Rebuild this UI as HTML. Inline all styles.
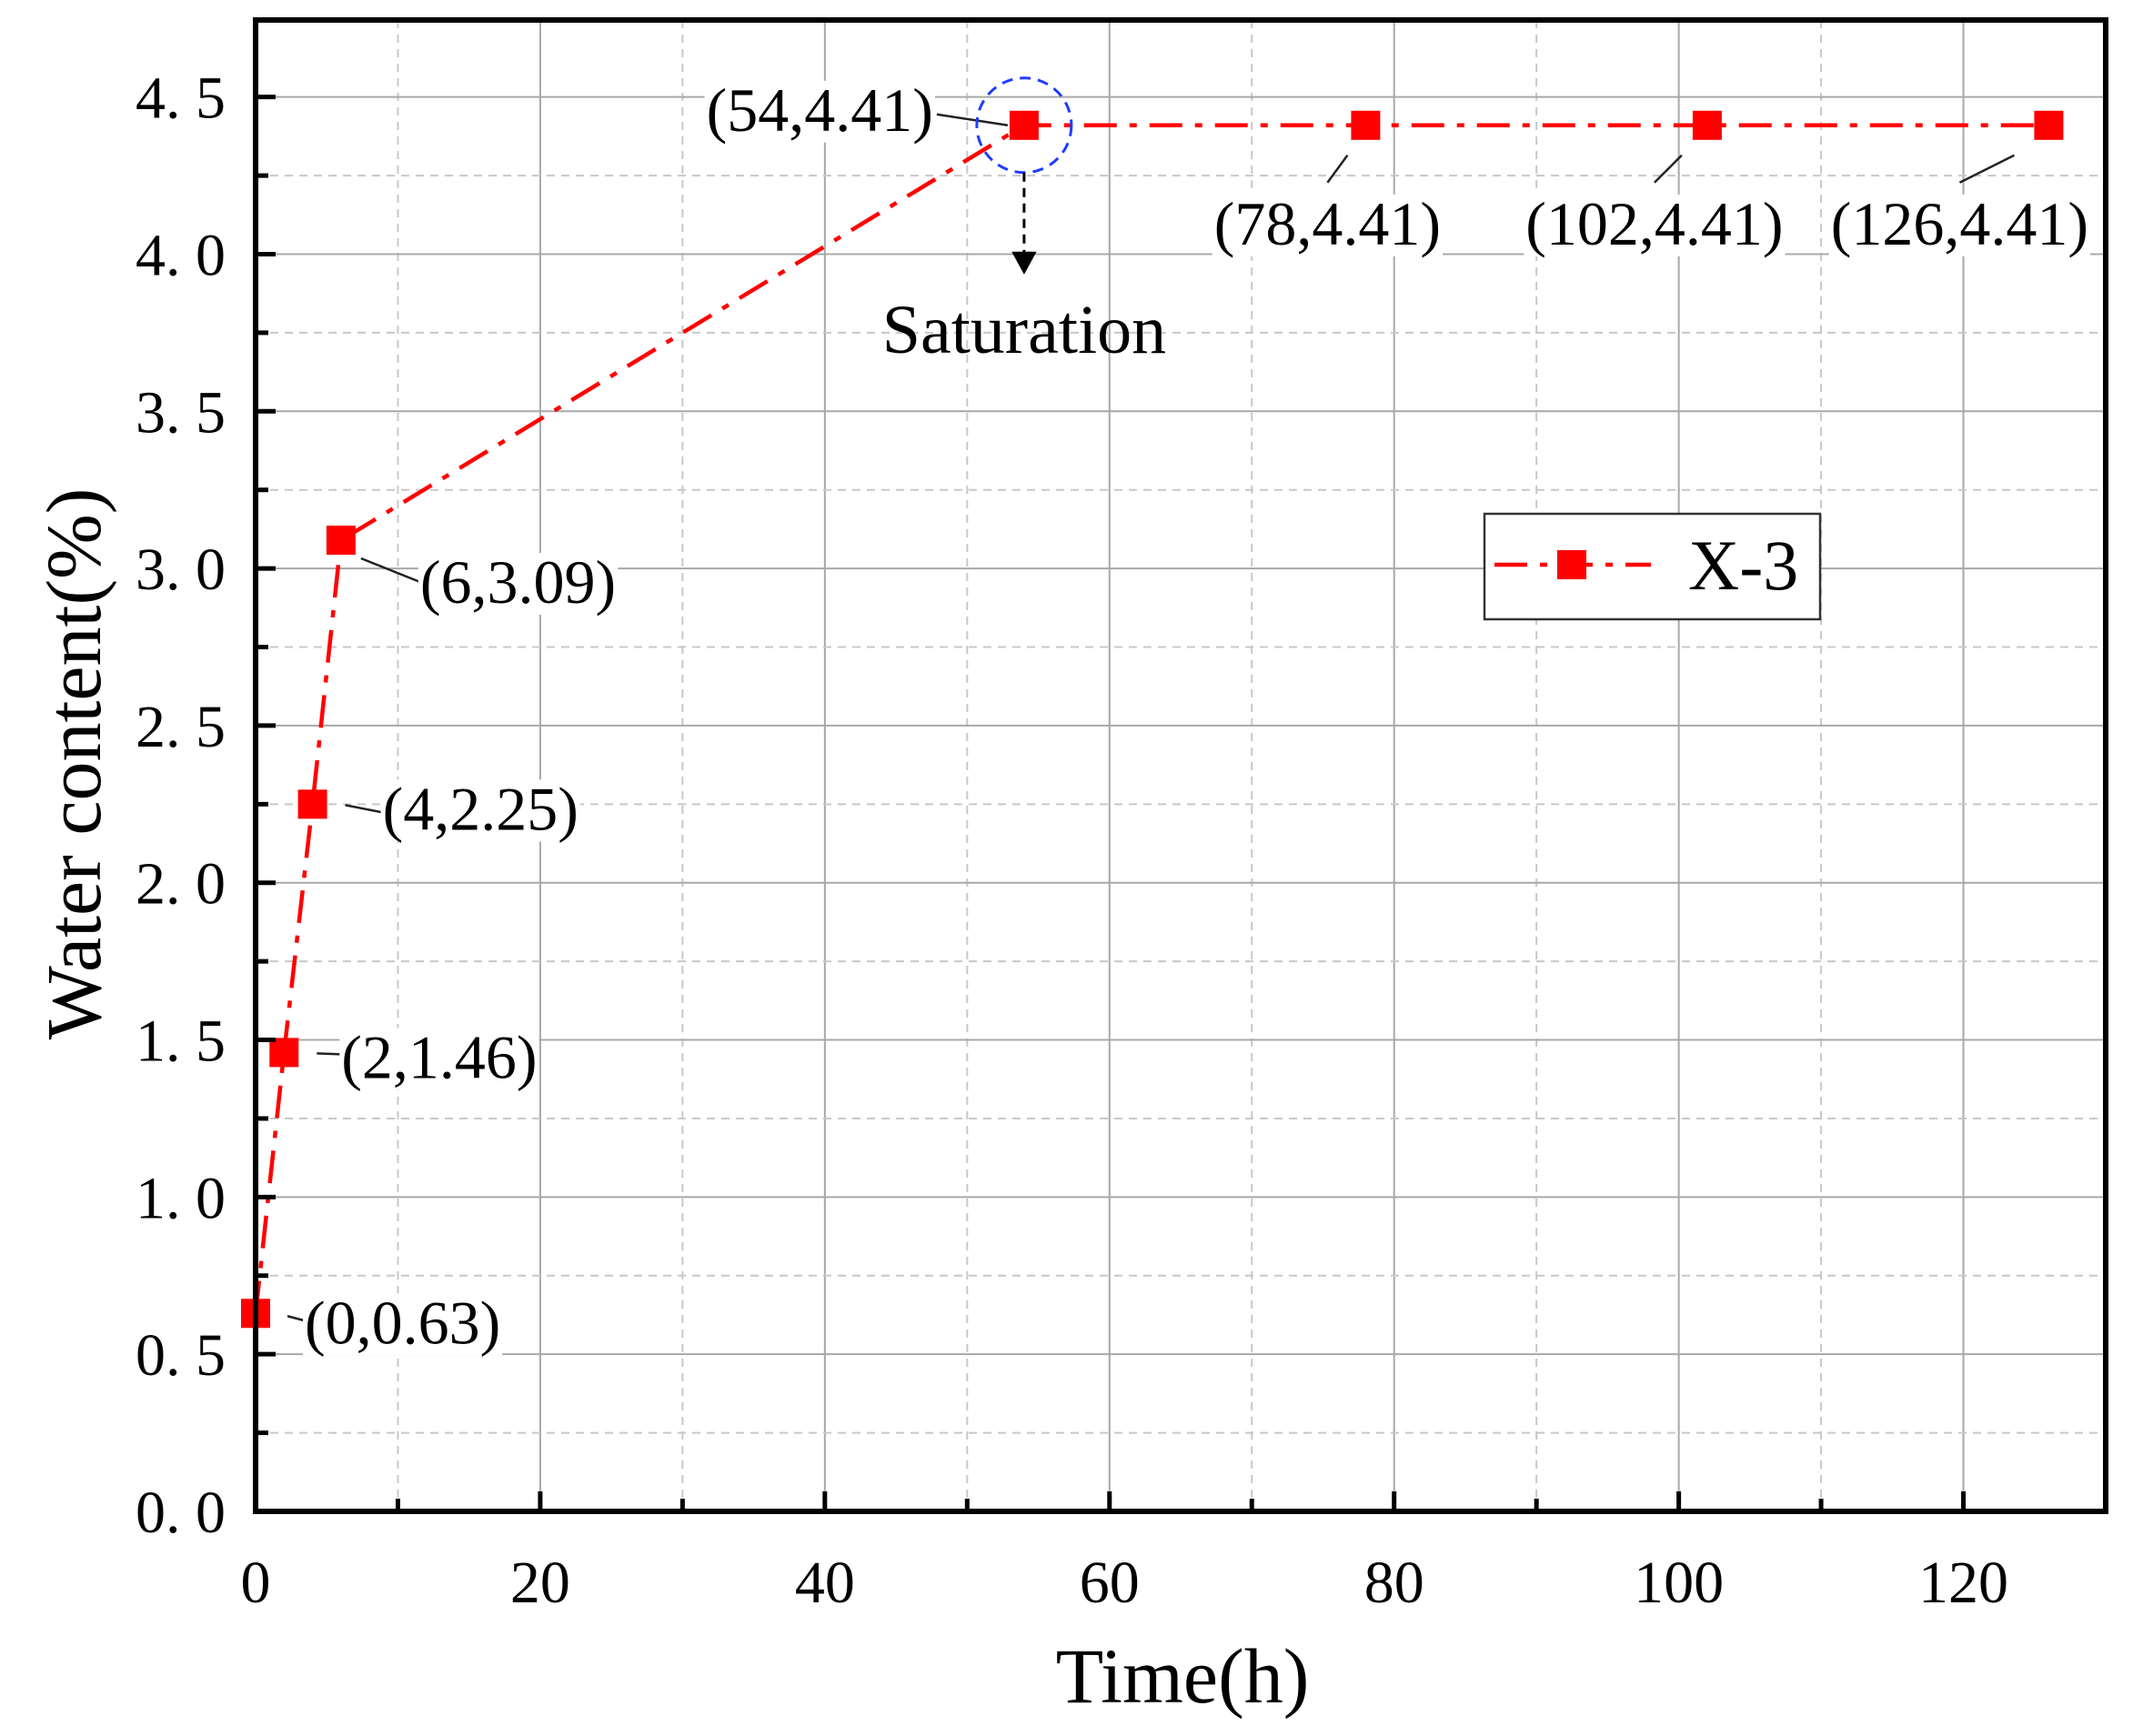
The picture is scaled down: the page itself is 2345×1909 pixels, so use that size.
<!DOCTYPE html>
<html><head><meta charset="utf-8"><style>
html,body{margin:0;padding:0;background:#fff;}
svg{display:block;font-family:"Liberation Serif","Noto Serif CJK SC",serif;}
</style></head><body>
<svg id="chart" width="2345" height="1909" viewBox="0 0 2345 1909" xmlns="http://www.w3.org/2000/svg">
<g id="grid"></g>
<g id="series"></g>
<g id="annot"></g>
<g id="axes"></g>
</svg>
<script>
const xValues = [0, 2, 4, 6, 54, 78, 102, 126];
const yValues = [0.63, 1.46, 2.25, 3.09, 4.41, 4.41, 4.41, 4.41];
const pointLabels = ["(0,0.63)","(2,1.46)","(4,2.25)","(6,3.09)","(54,4.41)","(78,4.41)","(102,4.41)","(126,4.41)"];
const xTicks = [0,20,40,60,80,100,120];
const yTicks = [0,0.5,1,1.5,2,2.5,3,3.5,4,4.5];
const yTickLabels = ["0. 0","0. 5","1. 0","1. 5","2. 0","2. 5","3. 0","3. 5","4. 0","4. 5"];

const L=281, R=2315, T=22, B=1662;
const X0=0, X1=130, Y0=0, Y1=4.745;
const sx = v => L + (v-X0)/(X1-X0)*(R-L);
const sy = v => B - (v-Y0)/(Y1-Y0)*(B-T);
const NS="http://www.w3.org/2000/svg";
function mk(parent, tag, attrs, text){
  const e=document.createElementNS(NS,tag);
  for(const k in attrs) e.setAttribute(k, attrs[k]);
  if(text!==undefined) e.textContent=text;
  document.getElementById(parent).appendChild(e);
  return e;
}
for(let v=10; v<130; v+=20){
  const e=mk('grid','line',{x1:sx(v),x2:sx(v),y1:T,y2:B,stroke:'#c8c8c8','stroke-width':2,'stroke-dasharray':'9,7'});
  
  
}
for(const v of xTicks){ if(v===0) continue;
  const e=mk('grid','line',{x1:sx(v),x2:sx(v),y1:T,y2:B,stroke:'#a8a8a8','stroke-width':2});
  
  
}
for(let v=0.25; v<4.745; v+=0.5){
  const e=mk('grid','line',{x1:L,x2:R,y1:sy(v),y2:sy(v),stroke:'#c8c8c8','stroke-width':2,'stroke-dasharray':'9,7'});
  
  
}
for(const v of yTicks){ if(v===0) continue;
  const e=mk('grid','line',{x1:L,x2:R,y1:sy(v),y2:sy(v),stroke:'#a8a8a8','stroke-width':2});
  
  
}
const pts = xValues.map((x,i)=>sx(x)+','+sy(yValues[i])).join(' ');
const pl=mk('series','polyline',{points:pts,fill:'none',stroke:'#ff0000','stroke-width':4.5,'stroke-dasharray':'36,14,8,14'});


const labOff = [
 [54,33,'start',[35,3,54,8]],
 [63,28,'start',[36,1,63,2]],
 [77,28,'start',[36,1,77,9]],
 [87,69,'start',[22,20,87,46]],
 [-100,6,'end',[-96,-12,-18,0]],
 [-42,131,'middle',[-42,63,-20,33]],
 [-58,131,'middle',[-58,63,-28,33]],
 [-98,131,'middle',[-98,63,-38,33]]
];
xValues.forEach((x,i)=>{
  const px=sx(x), py=sy(yValues[i]);
  const o=labOff[i];
  const ln=mk('annot','line',{x1:px+o[3][0],y1:py+o[3][1],x2:px+o[3][2],y2:py+o[3][3],stroke:'#222','stroke-width':2.5});
  
  
  const bg=mk('annot','rect',{fill:'#fff'});
  
  
  const t=mk('annot','text',{x:px+o[0],y:py+o[1],'font-size':68,'text-anchor':o[2],fill:'#000'},pointLabels[i]);
  
  
  const bb=t.getBBox();
  bg.setAttribute('x',bb.x-2); bg.setAttribute('y',bb.y+6);
  bg.setAttribute('width',bb.width+4); bg.setAttribute('height',bb.height-8);
});
xValues.forEach((x,i)=>{
  const m=mk('series','rect',{x:sx(x)-16,y:sy(yValues[i])-16,width:32,height:32,fill:'#ff0000'});
  
  
});
const cx=sx(54), cy=sy(4.41);
const c=mk('annot','circle',{cx:cx,cy:cy,r:52,fill:'none',stroke:'#1e3cff','stroke-width':3,'stroke-dasharray':'12,8'});


const ar=mk('annot','line',{x1:cx,y1:cy+52,x2:cx,y2:cy+150,stroke:'#000','stroke-width':3,'stroke-dasharray':'10,7'});


const ah=mk('annot','path',{d:`M${cx-12},${cy+140} L${cx},${cy+162} L${cx+12},${cy+140} Z`,fill:'#000',stroke:'#000','stroke-width':2});


const st=mk('annot','text',{x:cx,y:cy+250,'font-size':76,'text-anchor':'middle'},'Saturation');


const fr=mk('axes','rect',{x:L,y:T,width:R-L,height:B-T,fill:'none',stroke:'#000','stroke-width':6});


for(let v=10; v<130; v+=10){
  const major = v%20===0;
  const e=mk('axes','line',{x1:sx(v),x2:sx(v),y1:B,y2:B-(major?22:14),stroke:'#000','stroke-width':5});
  
  
}
for(let k=1;k<19;k++){ const v=k*0.25;
  const major = k%2===0;
  const e=mk('axes','line',{x1:L,x2:L+(major?22:14),y1:sy(v),y2:sy(v),stroke:'#000','stroke-width':5});
  
  
}
xTicks.forEach(v=>{
  const t=mk('axes','text',{x:sx(v),y:1762,'font-size':66,'text-anchor':'middle'},String(v));
  
  
});
yTicks.forEach((v,i)=>{
  const t=mk('axes','text',{x:248,y:sy(v)+23,'font-size':66,'text-anchor':'end'},yTickLabels[i]);
  
  
});
const xt=mk('axes','text',{x:1300,y:1872,'font-size':86,'text-anchor':'middle'},'Time(h)');


const yt=mk('axes','text',{x:0,y:0,'font-size':86,'text-anchor':'middle',transform:'translate(110,840) rotate(-90)'},'Water content(%)');


const lg=mk('axes','rect',{x:1632,y:565,width:369,height:116,fill:'#fff',stroke:'#333','stroke-width':2.5});


const ll=mk('axes','line',{x1:1643,x2:1815,y1:621,y2:621,stroke:'#ff0000','stroke-width':4.5,'stroke-dasharray':'36,14,8,14'});


const lm=mk('axes','rect',{x:1712,y:605,width:32,height:32,fill:'#ff0000'});


const lt=mk('axes','text',{x:1856,y:648,'font-size':78},'X-3');


</script>
</body></html>
